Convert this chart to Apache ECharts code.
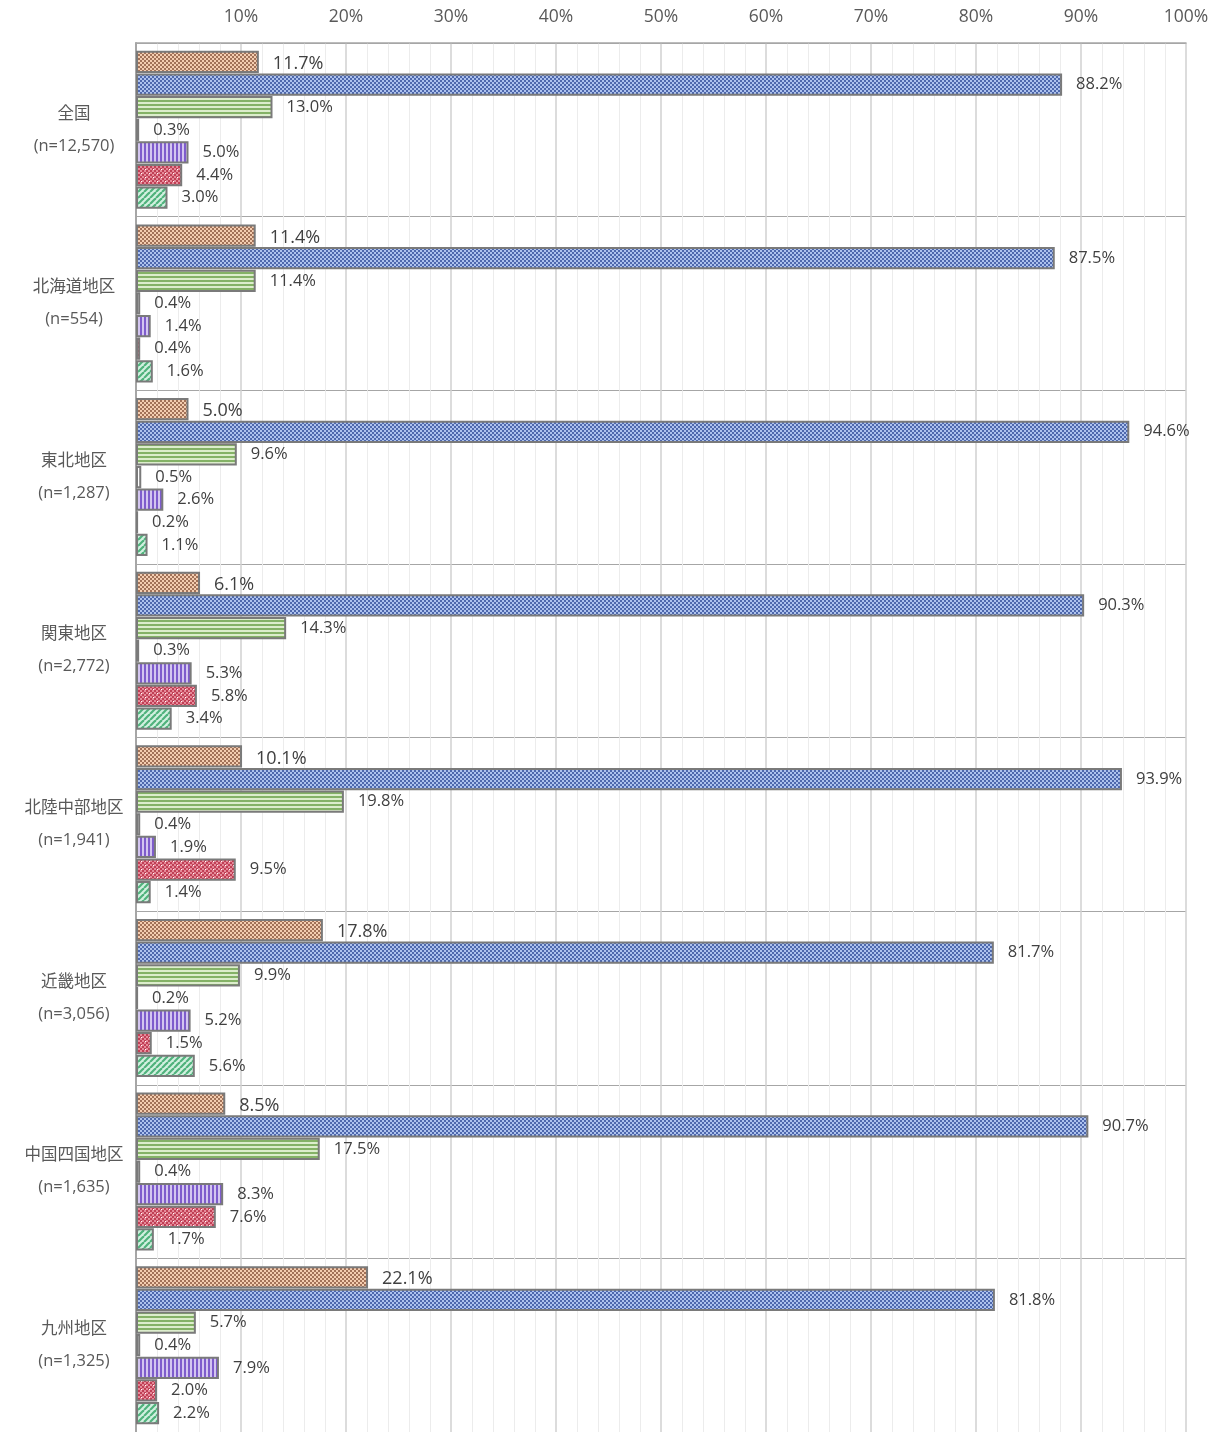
<!DOCTYPE html>
<html>
<head>
<meta charset="utf-8">
<script src="https://cdn.jsdelivr.net/npm/echarts@6/dist/echarts.min.js"></script>
<style>
html,body{margin:0;padding:0;background:#fff;}
#chart{width:1216px;height:1432px;}
</style>
</head>
<body>
<div id="chart"></div>
<script>
const categories = ['全国\n(n=12,570)', '北海道地区\n(n=554)', '東北地区\n(n=1,287)', '関東地区\n(n=2,772)', '北陸中部地区\n(n=1,941)', '近畿地区\n(n=3,056)', '中国四国地区\n(n=1,635)', '九州地区\n(n=1,325)'];
const seriesNames = ['項目1', '項目2', '項目3', '項目4', '項目5', '項目6', '項目7'];
const s1 = [11.7, 11.4, 5.0, 6.1, 10.1, 17.8, 8.5, 22.1];
const s2 = [88.2, 87.5, 94.6, 90.3, 93.9, 81.7, 90.7, 81.8];
const s3 = [13.0, 11.4, 9.6, 14.3, 19.8, 9.9, 17.5, 5.7];
const s4 = [0.3, 0.4, 0.5, 0.3, 0.4, 0.2, 0.4, 0.4];
const s5 = [5.0, 1.4, 2.6, 5.3, 1.9, 5.2, 8.3, 7.9];
const s6 = [4.4, 0.4, 0.2, 5.8, 9.5, 1.5, 7.6, 2.0];
const s7 = [3.0, 1.6, 1.1, 3.4, 1.4, 5.6, 1.7, 2.2];
const xTicks = [0, 10, 20, 30, 40, 50, 60, 70, 80, 90, 100];

function mk(w, h, draw) {
  const c = document.createElement('canvas');
  c.width = w; c.height = h;
  const g = c.getContext('2d');
  draw(g);
  return c;
}
function checker(a, b) {
  return mk(4, 4, g => {
    g.fillStyle = a; g.fillRect(0, 0, 4, 4);
    g.fillStyle = b; g.fillRect(0, 0, 2, 2); g.fillRect(2, 2, 2, 2);
  });
}
const patOrange = checker('#f4cdb0', '#a27258');
const patBlue = checker('#adc2ee', '#4e68ad');
const patHStripe = mk(4, 4, g => {
  g.fillStyle = '#dcedcc'; g.fillRect(0, 0, 4, 4);
  g.fillStyle = '#84b266'; g.fillRect(0, 0, 4, 2);
});
const patVStripe = mk(4, 4, g => {
  g.fillStyle = '#d3c5f0'; g.fillRect(0, 0, 4, 4);
  g.fillStyle = '#7e5ccc'; g.fillRect(0, 0, 2, 4);
});
const patRed = mk(8, 8, g => {
  g.fillStyle = '#e58a99'; g.fillRect(0, 0, 8, 8);
  g.fillStyle = '#c03f55';
  for (let y = 0; y < 8; y += 2) for (let x = 0; x < 8; x += 2) if (((x + y) / 2) % 2 === 0) g.fillRect(x, y, 2, 2);
  g.fillStyle = '#ffffff'; g.fillRect(1, 1, 1, 1); g.fillRect(5, 5, 1, 1);
});
const patDiag = mk(6, 6, g => {
  g.fillStyle = '#d2f0e0'; g.fillRect(0, 0, 6, 6);
  g.strokeStyle = '#4fb27c'; g.lineWidth = 2.2;
  for (let k = -6; k <= 12; k += 6) { g.beginPath(); g.moveTo(k, 6); g.lineTo(k + 6, 0); g.stroke(); }
});

const fills = [
  {image: patOrange, repeat: 'repeat'},
  {image: patBlue, repeat: 'repeat'},
  {image: patHStripe, repeat: 'repeat'},
  '#ffffff',
  {image: patVStripe, repeat: 'repeat'},
  {image: patRed, repeat: 'repeat'},
  {image: patDiag, repeat: 'repeat'}
];
const allData = [s1, s2, s3, s4, s5, s6, s7];
const FONT = '"Open Sans", "Noto Sans CJK JP", sans-serif';

const series = allData.map((d, i) => ({
  name: seriesNames[i],
  type: 'bar',
  data: d,
  barCategoryGap: '9%',
  barGap: '2%',
  itemStyle: {color: fills[i], borderColor: '#7a7a7a', borderWidth: 2},
  label: {
    show: true, position: 'right', distance: 14,
    formatter: p => p.value.toFixed(1) + '%',
    color: '#404040', fontFamily: FONT,
    fontSize: i === 0 ? 18 : 16.5,
    offset: i === 0 ? [0, 2] : [0, 0]
  }
}));

const chart = echarts.init(document.getElementById('chart'));
chart.setOption({
  animation: false,
  backgroundColor: '#ffffff',
  grid: {left: 136, right: 30, top: 43, bottom: 0, containLabel: false},
  xAxis: {
    type: 'value', position: 'top', min: 0, max: 100, interval: 10,
    axisLine: {show: true, lineStyle: {color: '#a6a6a6', width: 1.5}},
    axisTick: {show: false},
    axisLabel: {
      margin: 17, color: '#595959', fontSize: 17.5, fontFamily: FONT,
      formatter: v => (xTicks.indexOf(v) > 0 ? v + '%' : '')
    },
    splitLine: {show: true, lineStyle: {color: '#d0d0d0', width: 1.5}},
    minorTick: {show: false, splitNumber: 5},
    minorSplitLine: {show: true, lineStyle: {color: '#ececec', width: 1}}
  },
  yAxis: {
    type: 'category', data: categories, inverse: true,
    axisLine: {show: true, lineStyle: {color: '#a6a6a6', width: 2}},
    axisTick: {show: false},
    axisLabel: {
      margin: 62, align: 'center', color: '#595959', fontSize: 16.5,
      lineHeight: 32, fontFamily: FONT
    },
    splitLine: {show: true, lineStyle: {color: '#a6a6a6', width: 1.2}}
  },
  series: series
});
</script>
</body>
</html>
